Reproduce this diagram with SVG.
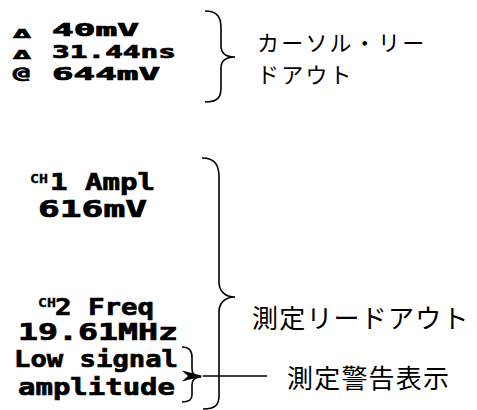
<svg xmlns="http://www.w3.org/2000/svg" width="477" height="410" viewBox="0 0 477 410">
<style>
.px{font-family:"DejaVu Sans Mono","Liberation Mono",monospace;font-weight:bold;fill:#000;stroke:#000;stroke-width:0.7}
.jp{font-family:"Noto Sans CJK JP","Noto Sans",sans-serif;fill:#000}
.br{fill:none;stroke:#000;stroke-width:1.6}
</style>
<defs>
<marker id="ah" markerUnits="userSpaceOnUse" markerWidth="22" markerHeight="12" refX="0" refY="6" orient="auto-start-reverse" viewBox="0 0 22 12">
<path d="M0,6 L21,0.5 L15,6 L21,11.5 Z" fill="#000"/>
</marker>
</defs>
<rect width="477" height="410" fill="#fff"/>
<g id="cursor-readout">
<text class="px" x="13" y="38" font-size="13" textLength="18" lengthAdjust="spacingAndGlyphs">Δ</text>
<text class="px" x="52" y="36" font-size="17" textLength="87" lengthAdjust="spacingAndGlyphs">40mV</text>
<text class="px" x="13" y="59" font-size="13" textLength="18" lengthAdjust="spacingAndGlyphs">Δ</text>
<text class="px" x="52" y="58" font-size="17" textLength="124" lengthAdjust="spacingAndGlyphs">31.44ns</text>
<text class="px" x="13" y="79" font-size="15" textLength="17" lengthAdjust="spacingAndGlyphs">@</text>
<text class="px" x="52" y="80" font-size="17" textLength="108" lengthAdjust="spacingAndGlyphs">644mV</text>
</g>
<g id="cursor-label">
<text class="jp" x="257" y="51" font-size="22" letter-spacing="2.2">カーソル・リー</text>
<text class="jp" x="257" y="83" font-size="22" letter-spacing="2.2">ドアウト</text>
</g>
<g id="meas1">
<text class="px" x="30" y="183" font-size="12" textLength="18" lengthAdjust="spacingAndGlyphs" style="stroke-width:0.3">CH</text>
<text class="px" x="50" y="190" font-size="23" textLength="105" lengthAdjust="spacingAndGlyphs">1 Ampl</text>
<text class="px" x="38" y="217" font-size="23" textLength="109" lengthAdjust="spacingAndGlyphs">616mV</text>
</g>
<g id="meas2">
<text class="px" x="38" y="307" font-size="12" textLength="18" lengthAdjust="spacingAndGlyphs" style="stroke-width:0.3">CH</text>
<text class="px" x="55" y="315" font-size="23" textLength="99" lengthAdjust="spacingAndGlyphs">2 Freq</text>
<text class="px" x="18" y="340" font-size="23" textLength="160" lengthAdjust="spacingAndGlyphs">19.61MHz</text>
</g>
<g id="warning">
<text class="px" x="14" y="367" font-size="23" textLength="164" lengthAdjust="spacingAndGlyphs">Low signal</text>
<text class="px" x="18" y="395" font-size="23" textLength="157" lengthAdjust="spacingAndGlyphs">amplitude</text>
</g>
<g id="meas-label">
<text class="jp" x="252" y="328" font-size="26" letter-spacing="1.2">測定リードアウト</text>
</g>
<g id="warn-label">
<text class="jp" x="287" y="388" font-size="26" letter-spacing="1.2">測定警告表示</text>
</g>
<g id="connectors">
<path class="br" d="M205,11 C218,11 221,18 221,28 L221,46 C221,53 226,57 235,57 C226,57 221,61 221,68 L221,88 C221,97 218,102 205,102"/>
<path class="br" d="M202,158 C215,158 219,165 219,177 L219,282 C219,291 225,297 235,297 C225,297 219,303 219,312 L219,396 C219,405 215,409 203,409"/>
<path class="br" d="M182,347 C189,347 192,351 192,357 L192,369 C192,374 195,377 201,377 C195,377 192,380 192,385 L192,395 C192,400 189,402 182,402"/>
<line x1="267" y1="376" x2="203" y2="376" stroke="#000" stroke-width="1.6" marker-end="url(#ah)"/>
</g>
</svg>
